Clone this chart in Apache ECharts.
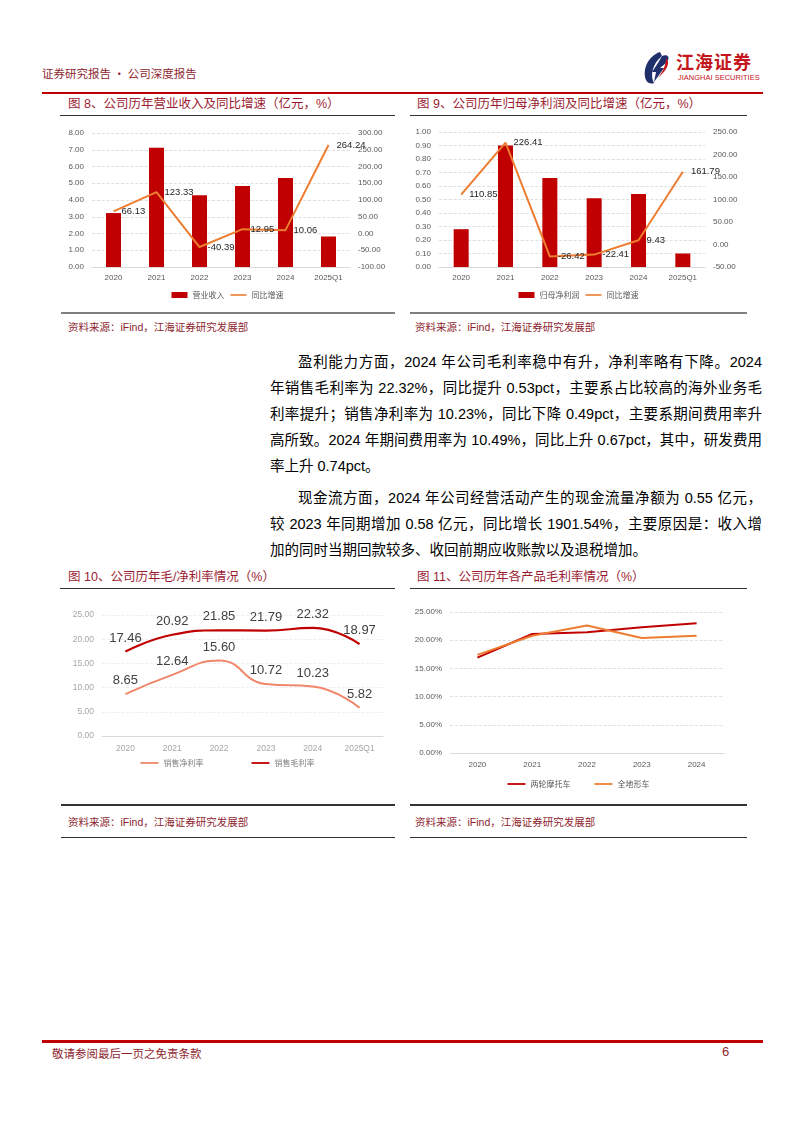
<!DOCTYPE html>
<html><head><meta charset="utf-8">
<script src="https://cdn.jsdelivr.net/npm/echarts@6/dist/echarts.min.js"></script>
<style>
html,body{margin:0;padding:0;background:#fff;}
#page{position:relative;width:794px;height:1123px;overflow:hidden;font-family:"Liberation Sans","Noto Sans CJK SC",sans-serif;}
.abs{position:absolute;}
.hdr{color:#8E1F2F;font-family:"Noto Sans CJK SC";}
.title{position:absolute;font-size:12.5px;color:#9B1C31;font-family:"Liberation Sans","Noto Sans CJK SC";white-space:nowrap;line-height:16px;}
.src{position:absolute;font-size:10.5px;color:#8E1F2F;font-family:"Liberation Sans","Noto Sans CJK SC";white-space:nowrap;line-height:14px;}
.line{position:absolute;}
.p{position:absolute;font-size:14.5px;line-height:20px;color:#000;white-space:nowrap;font-family:"Liberation Sans","Noto Sans CJK SC";}
.j{text-align:justify;text-align-last:justify;width:492px;left:270px;}
.chart{position:absolute;}
</style></head>
<body><div id="page">
<div class="abs hdr" style="left:42px;top:65px;font-size:11.5px;line-height:16px;">证券研究报告 · 公司深度报告</div>
<svg class="abs" style="left:640px;top:48px" width="120" height="40" viewBox="0 0 120 40">
  <path d="M20 4 C8 8 2 22 6 32 C8 36 12 36 14 35 C10 28 12 16 22 8 Z" fill="#1F2F6B"/>
  <path d="M22 8 C26 6 30 8 28 12 C26 16 22 18 20 20 L24 20 L14 34 L16 24 L12 24 C16 18 20 12 22 8 Z" fill="#1F2F6B"/>
  <path d="M26 10 C30 14 28 20 22 26 L18 30 C24 22 26 16 26 10 Z" fill="#C3161C"/>
  <text x="36" y="21" font-family="Noto Sans CJK SC" font-weight="700" font-size="18" fill="#C3161C" letter-spacing="1">江海证券</text>
  <text x="38" y="32" font-family="Liberation Sans" font-size="7.5" fill="#C3161C">JIANGHAI SECURITIES</text>
</svg>
<div class="line" style="left:42px;top:92px;width:721px;height:2px;background:#C00000"></div>

<div class="title" style="left:68px;top:96px;">图 8、公司历年营业收入及同比增速（亿元，%）</div>
<div class="title" style="left:417px;top:96px;">图 9、公司历年归母净利润及同比增速（亿元，%）</div>
<div class="line" style="left:60px;top:115px;width:335px;height:1px;background:#333"></div>
<div class="line" style="left:410px;top:115px;width:337px;height:1px;background:#333"></div>
<div id="c8" class="chart" style="left:60px;top:118px;width:335px;height:192px"></div>
<div id="c9" class="chart" style="left:410px;top:118px;width:337px;height:192px"></div>
<div class="line" style="left:61px;top:312px;width:334px;height:2px;background:#7F7F7F"></div>
<div class="line" style="left:410px;top:312px;width:337px;height:2px;background:#7F7F7F"></div>
<div class="src" style="left:68px;top:320px;">资料来源：iFind，江海证券研究发展部</div>
<div class="src" style="left:415px;top:320px;">资料来源：iFind，江海证券研究发展部</div>

<div class="p" style="left:298px;top:352px;width:464px;text-align:justify;text-align-last:justify;">盈利能力方面，2024 年公司毛利率稳中有升，净利率略有下降。2024</div>
<div class="p j" style="top:378px;">年销售毛利率为 22.32%，同比提升 0.53pct，主要系占比较高的海外业务毛</div>
<div class="p j" style="top:404px;">利率提升；销售净利率为 10.23%，同比下降 0.49pct，主要系期间费用率升</div>
<div class="p j" style="top:430px;">高所致。2024 年期间费用率为 10.49%，同比上升 0.67pct，其中，研发费用</div>
<div class="p" style="left:270px;top:456px;">率上升 0.74pct。</div>
<div class="p" style="left:298px;top:488px;width:464px;text-align:justify;text-align-last:justify;">现金流方面，2024 年公司经营活动产生的现金流量净额为 0.55 亿元，</div>
<div class="p j" style="top:514px;">较 2023 年同期增加 0.58 亿元，同比增长 1901.54%，主要原因是：收入增</div>
<div class="p" style="left:270px;top:540px;">加的同时当期回款较多、收回前期应收账款以及退税增加。</div>

<div class="title" style="left:68px;top:569px;">图 10、公司历年毛/净利率情况（%）</div>
<div class="title" style="left:417px;top:569px;">图 11、公司历年各产品毛利率情况（%）</div>
<div class="line" style="left:60px;top:588px;width:335px;height:1px;background:#333"></div>
<div class="line" style="left:410px;top:588px;width:337px;height:1px;background:#333"></div>
<div id="c10" class="chart" style="left:60px;top:592px;width:335px;height:208px"></div>
<div id="c11" class="chart" style="left:410px;top:592px;width:337px;height:208px"></div>
<div class="line" style="left:61px;top:804px;width:334px;height:1.5px;background:#333"></div>
<div class="line" style="left:410px;top:804px;width:337px;height:1.5px;background:#333"></div>
<div class="src" style="left:68px;top:815px;">资料来源：iFind，江海证券研究发展部</div>
<div class="src" style="left:415px;top:815px;">资料来源：iFind，江海证券研究发展部</div>
<div class="line" style="left:61px;top:837px;width:334px;height:1px;background:#333"></div>
<div class="line" style="left:410px;top:837px;width:337px;height:1px;background:#333"></div>

<div class="line" style="left:42px;top:1040px;width:721px;height:2.5px;background:#C00000"></div>
<div class="abs hdr" style="left:52px;top:1045px;font-size:11.5px;line-height:16px;">敬请参阅最后一页之免责条款</div>
<div class="abs hdr" style="left:722px;top:1044px;font-size:13px;line-height:16px;font-family:'Liberation Sans'">6</div>
</div>
<script>
const years = ['2020','2021','2022','2023','2024','2025Q1'];
const revenue = [3.22, 7.12, 4.28, 4.83, 5.31, 1.82];
const revenueYoY = [66.13, 123.33, -40.39, 12.95, 10.06, 264.24];
const netProfit = [0.28, 0.90, 0.66, 0.51, 0.54, 0.10];
const netProfitYoY = [110.85, 226.41, -26.42, -22.41, 9.43, 161.79];
const grossMargin = [17.46, 20.92, 21.85, 21.79, 22.32, 18.97];
const netMargin = [8.65, 12.64, 15.60, 10.72, 10.23, 5.82];
const years11 = ['2020','2021','2022','2023','2024'];
const motoMargin = [16.9, 21.1, 21.4, 22.3, 23.0];
const atvMargin = [17.4, 20.8, 22.6, 20.4, 20.8];

const RED = '#C00000', ORANGE = '#ED7D31';
const LINE_ICON = 'path://M0,0 L40,0 L40,4 L0,4 Z';
const f2 = v => Number(v).toFixed(2);
const axisLbl = {fontSize:8, color:'#595959', formatter:f2, fontFamily:'Liberation Sans'};
const dashed = {show:true, lineStyle:{type:'dashed', color:'#D9D9D9', width:0.8}};
const hiddenSym = {symbol:'circle', symbolSize:0.1, showSymbol:true};

function barLine(id, cats, bars, line, barName, lMin, lMax, lInt, rMin, rMax, rInt, grid){
  const c = echarts.init(document.getElementById(id), null, {renderer:'canvas'});
  c.setOption({
    animation:false,
    grid:grid,
    legend:{bottom:6, itemWidth:16, itemHeight:6, itemGap:6, textStyle:{fontSize:8, color:'#595959', fontFamily:'Noto Sans CJK SC'},
      data:[{name:barName, icon:'rect'},{name:'同比增速', icon:LINE_ICON}]},
    xAxis:{type:'category', data:cats, axisTick:{show:false}, axisLine:{lineStyle:{color:'#D9D9D9'}},
      axisLabel:{fontSize:8, color:'#595959', margin:7, fontFamily:'Liberation Sans'}},
    yAxis:[
      {type:'value', min:lMin, max:lMax, interval:lInt, axisLabel:axisLbl, splitLine:dashed, axisLine:{show:false}},
      {type:'value', min:rMin, max:rMax, interval:rInt, axisLabel:axisLbl, splitLine:{show:false}, axisLine:{show:false}}
    ],
    series:[
      {name:barName, type:'bar', data:bars, barWidth:15, itemStyle:{color:RED}},
      Object.assign({name:'同比增速', type:'line', yAxisIndex:1, data:line, z:5,
        lineStyle:{color:ORANGE, width:2}, itemStyle:{color:ORANGE},
        label:{show:true, position:'right', distance:8, fontSize:9.5, color:'#262626', formatter:p=>f2(p.value), fontFamily:'Liberation Sans'}}, hiddenSym)
    ]
  });
}
barLine('c8', years, revenue, revenueYoY, '营业收入', 0, 8, 1, -100, 300, 50, {left:32, right:45, top:15, bottom:43});
barLine('c9', years, netProfit, netProfitYoY, '归母净利润', 0, 1, 0.1, -50, 250, 50, {left:29, right:42, top:14, bottom:43});

const c10 = echarts.init(document.getElementById('c10'));
c10.setOption({
  animation:false,
  grid:{left:42, right:12, top:23, bottom:64},
  legend:{top:162, itemWidth:18, itemHeight:4, itemGap:48, textStyle:{fontSize:8, color:'#7F7F7F', fontFamily:'Noto Sans CJK SC'},
    data:[{name:'销售净利率', icon:LINE_ICON},{name:'销售毛利率', icon:LINE_ICON}]},
  xAxis:{type:'category', data:years, axisTick:{show:false}, axisLine:{lineStyle:{color:'#D9D9D9'}},
    axisLabel:{fontSize:8.5, color:'#A6A6A6', margin:8, fontFamily:'Liberation Sans'}},
  yAxis:{type:'value', min:0, max:25, interval:5, axisLine:{show:false},
    axisLabel:{fontSize:8.5, color:'#A6A6A6', formatter:f2, fontFamily:'Liberation Sans'},
    splitLine:{show:true, lineStyle:{type:'dashed', color:'#EBEBEB', width:0.8}}},
  series:[
    Object.assign({name:'销售净利率', type:'line', smooth:true, data:netMargin,
      lineStyle:{color:'#F0866A', width:2}, itemStyle:{color:'#F0866A'},
      label:{show:true, position:'top', distance:7, fontSize:13, color:'#404040', formatter:p=>f2(p.value), fontFamily:'Liberation Sans'}}, hiddenSym),
    Object.assign({name:'销售毛利率', type:'line', smooth:true, data:grossMargin,
      lineStyle:{color:RED, width:2.2}, itemStyle:{color:RED},
      label:{show:true, position:'top', distance:7, fontSize:13, color:'#404040', formatter:p=>f2(p.value), fontFamily:'Liberation Sans'}}, hiddenSym)
  ]
});

const c11 = echarts.init(document.getElementById('c11'));
c11.setOption({
  animation:false,
  grid:{left:40, right:23, top:20, bottom:47},
  legend:{top:183, itemWidth:18, itemHeight:4, itemGap:24, textStyle:{fontSize:8, color:'#595959', fontFamily:'Noto Sans CJK SC'},
    data:[{name:'两轮摩托车', icon:LINE_ICON},{name:'全地形车', icon:LINE_ICON}]},
  xAxis:{type:'category', data:years11, axisTick:{show:false}, axisLine:{lineStyle:{color:'#D9D9D9'}},
    axisLabel:{fontSize:8, color:'#595959', margin:8, fontFamily:'Liberation Sans'}},
  yAxis:{type:'value', min:0, max:25, interval:5, axisLine:{show:false},
    axisLabel:{fontSize:8, color:'#595959', formatter:v=>v.toFixed(2)+'%', fontFamily:'Liberation Sans'},
    splitLine:dashed},
  series:[
    {name:'两轮摩托车', type:'line', data:motoMargin, showSymbol:false, symbol:'none',
      lineStyle:{color:RED, width:2}, itemStyle:{color:RED}},
    {name:'全地形车', type:'line', data:atvMargin, showSymbol:false, symbol:'none',
      lineStyle:{color:ORANGE, width:2}, itemStyle:{color:ORANGE}}
  ]
});
</script>
</body></html>
